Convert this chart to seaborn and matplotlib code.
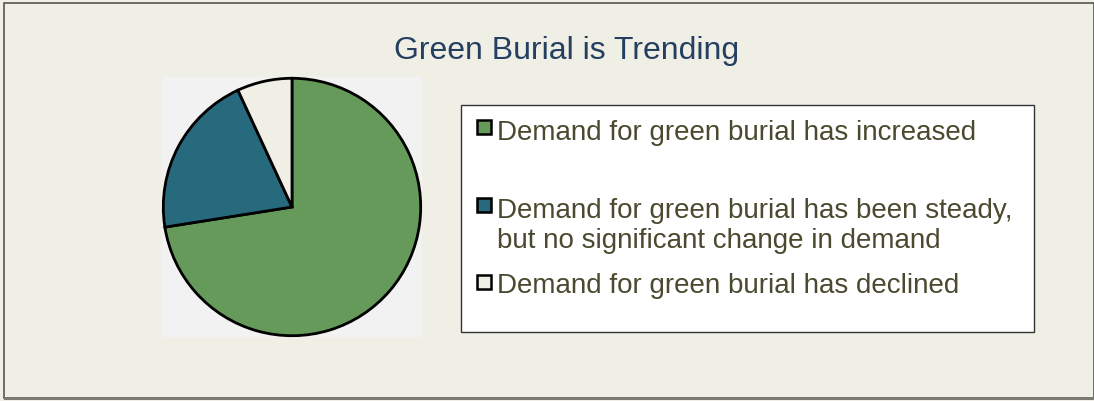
import seaborn as sns
import matplotlib.pyplot as plt
from matplotlib.patches import Rectangle

# Survey answers and their shares
labels = [
    "Demand for green burial has increased",
    "Demand for green burial has been steady,\nbut no significant change in demand",
    "Demand for green burial has declined",
]
shares = [72.5, 20.6, 6.9]
colors = sns.color_palette(["#669a5a", "#286a7d", "#f0efe6"])

sns.set_style("white")
plt.rcParams["font.family"] = ["Liberation Sans", "DejaVu Sans"]

W, H = 1094, 402
fig = plt.figure(figsize=(W / 100, H / 100), dpi=100, facecolor="#efefe6")


def fx(px):
    return px / W


def fy(py):
    return 1 - py / H


# outer frame
fig.patches.append(Rectangle((fx(4), fy(399)), fx(1094) - fx(4), fy(4) - fy(399),
                             transform=fig.transFigure, fill=False,
                             edgecolor="#555555", linewidth=1.2))
fig.patches.append(Rectangle((fx(4), fy(401)), 1, fy(398) - fy(401),
                             transform=fig.transFigure, facecolor="#7a7a72",
                             edgecolor="none"))

fig.text(fx(567), fy(59), "Green Burial is Trending", ha="center", va="baseline",
         fontsize=23, color="#243f60")

# pie
ax = fig.add_axes([fx(162), fy(338), fx(422) - fx(162), fy(78) - fy(338)])
ax.pie(shares, colors=colors, startangle=90, counterclock=False,
       wedgeprops=dict(edgecolor="black", linewidth=2))
ax.set_frame_on(True)
ax.set_facecolor("#f2f2f2")
ax.set_xlim(-1.01, 1.01)
ax.set_ylim(-1.01, 1.01)
ax.set_aspect("auto")
for s in ax.spines.values():
    s.set_visible(False)

# legend box
fig.patches.append(Rectangle((fx(461), fy(333)), fx(1034) - fx(461), fy(106) - fy(333),
                             transform=fig.transFigure, facecolor="white",
                             edgecolor="#333333", linewidth=1))
square_tops = [121, 199, 276]
baselines = [140, 218, 293]
line_gap = 30
for lab, col, top, base in zip(labels, colors, square_tops, baselines):
    fig.patches.append(Rectangle((fx(477), fy(top + 14)), fx(14), 14 / H,
                                 transform=fig.transFigure, facecolor=col,
                                 edgecolor="black", linewidth=1.8))
    for i, line in enumerate(lab.split("\n")):
        fig.text(fx(497), fy(base + i * line_gap), line, ha="left", va="baseline",
                 fontsize=20, color="#4b4a30")

fig.savefig("out.png", dpi=100, facecolor=fig.get_facecolor())
